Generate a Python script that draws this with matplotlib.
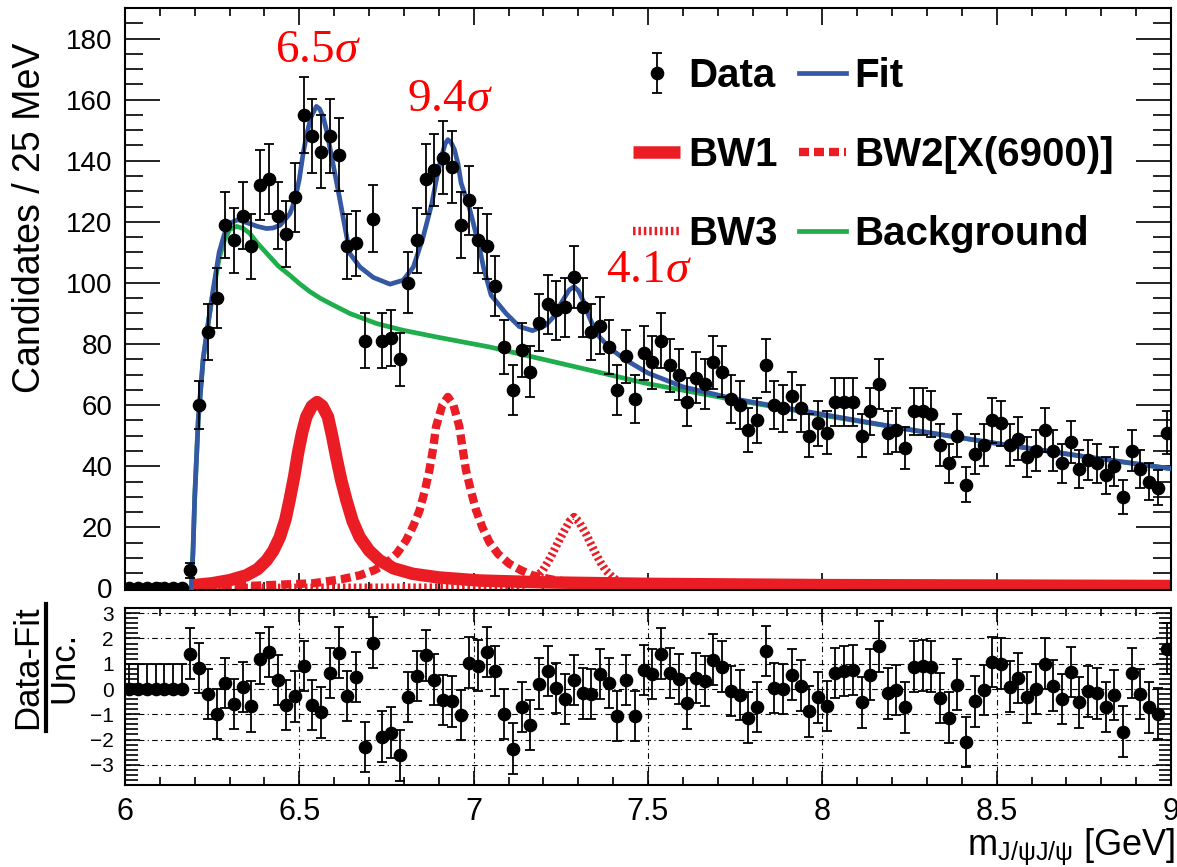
import numpy as np
import matplotlib
matplotlib.use('Agg')
import matplotlib.pyplot as plt
from matplotlib.lines import Line2D
from matplotlib.ticker import MultipleLocator, FormatStrFormatter

plt.rcParams['font.family'] = 'Liberation Sans'
plt.rcParams['mathtext.fontset'] = 'custom'
plt.rcParams['mathtext.rm'] = 'Liberation Sans'
plt.rcParams['mathtext.it'] = 'Liberation Serif:italic'
plt.rcParams['mathtext.bf'] = 'Liberation Sans:bold'

# ---- data (25 MeV bins, 6 - 9 GeV) ----
edges = np.linspace(6.0, 9.0, 121)
counts = [0, 0, 0, 0, 0, 0, 0, 6, 60, 84,
          95, 119, 114, 122, 112, 132, 134, 122, 116, 128,
          155, 148, 143, 148, 142, 112, 113, 81, 121, 81,
          82, 75, 100, 114, 134, 137, 141, 138, 119, 127,
          114, 112, 99, 79, 65, 78, 71, 87, 93, 91,
          92, 102, 92, 84, 86, 79, 65, 76, 62, 77,
          74, 81, 73, 70, 61, 69, 67, 74, 71, 62,
          60, 52, 55, 73, 60, 59, 63, 59, 50, 54,
          51, 61, 61, 61, 50, 58, 67, 51, 52, 46,
          58, 58, 57, 47, 41, 50, 34, 44, 47, 55,
          54, 47, 49, 43, 45, 52, 45, 41, 48, 39,
          42, 41, 37, 40, 30, 45, 39, 35, 33, 51]

pulls = [0, 0, 0, 0, 0, 0, 0, 1.4, 0.84, -0.19,
         -0.99, 0.24, -0.59, 0.08, -0.69, 1.2, 1.47, 0.35, -0.63, -0.29,
         0.91, -0.63, -0.93, 0.64, 1.44, -0.27, 0.48, -2.29, 1.84, -1.89,
         -1.73, -2.63, -0.32, 0.51, 1.33, 0.37, -0.43, -0.49, -1.03, 1.04,
         0.93, 1.47, 0.71, -0.99, -2.36, -0.72, -1.43, 0.21, 0.71, 0.04,
         -0.4, 0.35, -0.17, -0.2, 0.6, 0.23, -1.07, 0.36, -1.07, 0.76,
         0.6, 1.4, 0.63, 0.4, -0.57, 0.44, 0.31, 1.16, 0.89, -0.07,
         -0.24, -1.13, -0.71, 1.51, 0.04, 0.0, 0.57, 0.13, -0.89, -0.33,
         -0.67, 0.63, 0.71, 0.76, -0.53, 0.57, 1.69, -0.17, -0.04, -0.73,
         0.89, 0.93, 0.89, -0.36, -1.13, 0.17, -2.09, -0.49, -0.04, 1.07,
         1.0, 0.09, 0.44, -0.33, 0.0, 1.0, 0.13, -0.4, 0.67, -0.53,
         -0.09, -0.17, -0.71, -0.23, -1.69, 0.63, -0.2, -0.73, -0.97, 1.6]
pull_err_lo = [0] * 7 + [1] * 113
pull_err_hi = [1] * 120

# fit curves (read at selected masses)
fit_x = [6.19, 6.195, 6.2, 6.21, 6.224, 6.24, 6.253, 6.27, 6.285, 6.301, 6.324, 6.358,
         6.38, 6.406, 6.425, 6.445, 6.473, 6.487, 6.5, 6.511, 6.523, 6.534, 6.549, 6.558,
         6.568, 6.578, 6.587, 6.6, 6.611, 6.628, 6.645, 6.674, 6.712, 6.76, 6.798, 6.827,
         6.855, 6.88, 6.895, 6.907, 6.918, 6.926, 6.935, 6.945, 6.955, 6.964, 6.989,
         7.016, 7.028, 7.05, 7.093, 7.131, 7.169, 7.207, 7.23, 7.245, 7.262, 7.274, 7.288,
         7.3, 7.315, 7.331, 7.345, 7.36, 7.38, 7.398, 7.436, 7.5, 7.6, 7.75, 8.0, 8.25,
         8.5, 8.75, 9.0]
fit_y = [0, 12, 30, 55, 75, 88, 98, 110, 116, 119.6, 120.7, 119.4,
         118.5, 117.8, 118, 118.9, 122.7, 127, 134, 142.5, 149.5, 154.5, 157.8, 157,
         154.5, 150, 144.7, 137, 130.5, 120, 109.6, 105.2, 101.8, 99.6, 100.9, 105.2,
         115, 126, 135, 141, 145.5, 146.9, 146, 143.6, 139, 132.7, 124,
         111.9, 105.2, 96, 90, 85.7, 84.4, 86.2, 89, 92.2, 95.5, 97.7, 98.8,
         97.5, 94, 89, 85.3, 82.4, 80, 78, 74.8, 70.5, 66, 62, 57, 52,
         47.5, 43.2, 39.2]

bkg_x = [6.19, 6.195, 6.2, 6.21, 6.224, 6.24, 6.253, 6.27, 6.285, 6.3, 6.32, 6.34,
         6.358, 6.38, 6.416, 6.44, 6.473, 6.5, 6.531, 6.56, 6.588, 6.645, 6.722, 6.798,
         6.894, 7.047, 7.207, 7.35, 7.5, 7.75, 8.0, 8.25, 8.5, 8.75, 9.0]
bkg_y = [0, 12, 30, 55, 75, 88, 97, 108, 114, 117.5, 118.5, 117.8,
         116.2, 113, 108.5, 105.5, 102.5, 99.8, 97.1, 95, 93.3, 90, 86.7, 84.5,
         82.3, 79, 74.8, 71, 67, 61.7, 56.7, 52, 47.4, 43.2, 39.2]

bw1_x = [6.19, 6.25, 6.3, 6.348, 6.38, 6.406, 6.425, 6.444, 6.46, 6.472, 6.485, 6.496,
         6.508, 6.52, 6.536, 6.551, 6.566, 6.582, 6.594, 6.606, 6.62, 6.635, 6.653, 6.673,
         6.7, 6.73, 6.77, 6.825, 6.9, 7.016, 7.2, 7.5, 8.0, 9.0]
bw1_y = [1.0, 1.7, 2.7, 4.3, 6.3, 9.2, 12.3, 16.8, 22.5, 28.9, 36.5, 44.2,
         51, 56.2, 59.7, 61, 59.7, 56.2, 50, 43, 35.5, 28.9, 22, 16.8,
         12.4, 9.2, 6.6, 4.8, 3.6, 2.6, 2.0, 1.5, 1.1, 0.8]

bw2_x = [6.19, 6.35, 6.539, 6.62, 6.673, 6.715, 6.749, 6.78, 6.806, 6.827, 6.845, 6.86,
         6.873, 6.884, 6.892, 6.91, 6.926, 6.942, 6.959, 6.968, 6.978, 6.992, 7.007,
         7.025, 7.045, 7.07, 7.102, 7.135, 7.169, 7.23, 7.303, 7.5, 8.0, 9.0]
bw2_y = [0.3, 0.8, 1.7, 3.0, 4.3, 6.0, 8.1, 11.5, 15.7, 20.5, 25.6, 32,
         38.7, 46, 52.9, 60, 62.7, 60, 52.9, 46, 38.7, 32, 25.6,
         20, 15.2, 11.3, 8.1, 6.0, 4.3, 2.8, 1.7, 1.0, 0.6, 0.4]

bw3_x = [6.19, 7.0, 7.111, 7.14, 7.16, 7.18, 7.198, 7.212, 7.226, 7.24, 7.255, 7.275,
         7.288, 7.301, 7.322, 7.336, 7.35, 7.364, 7.379, 7.397, 7.417, 7.44, 7.494,
         8.0, 9.0]
bw3_y = [0.2, 0.3, 0.5, 1.2, 2.1, 3.8, 5.9, 8.5, 11.4, 14.6, 17.9, 22,
         23.4, 22, 17.9, 14.6, 11.4, 8.5, 5.9, 3.8, 2.1, 1.2, 0.5,
         0.3, 0.2]

centers = (edges[:-1] + edges[1:]) / 2
counts = np.array(counts, dtype=float)

red = '#EA1D25'
blue = '#3558A5'
green = '#1FAE4B'

fig = plt.figure(figsize=(11.77, 8.67), dpi=100)
ax = fig.add_axes([0.1062, 0.3195, 0.8887, 0.6713])
ax2 = fig.add_axes([0.1062, 0.0946, 0.8887, 0.2045])

# ---- main panel ----
h_bw1, = ax.plot(bw1_x, bw1_y, color=red, lw=9, solid_capstyle='butt', zorder=2)
h_bw2, = ax.plot(bw2_x, bw2_y, color=red, lw=6, dashes=(1.2, 0.6), dash_capstyle='butt', zorder=2)
h_bw3, = ax.plot(bw3_x, bw3_y, color=red, lw=6, dashes=(0.3, 0.35), dash_capstyle='butt', zorder=2)
h_bkg, = ax.plot(bkg_x, bkg_y, color=green, lw=3.4, zorder=3)
h_fit, = ax.plot(fit_x, fit_y, color=blue, lw=3.4, zorder=3)
h_data = ax.errorbar(centers, counts, yerr=np.sqrt(counts), fmt='o', color='k', ms=8.8,
                     elinewidth=1.3, capsize=3.5, capthick=1.3, zorder=5)

ax.set_xlim(6, 9)
ax.set_ylim(-0.5, 190)
ax.xaxis.set_major_locator(MultipleLocator(0.5))
ax.xaxis.set_minor_locator(MultipleLocator(0.1))
ax.yaxis.set_major_locator(MultipleLocator(20))
ax.yaxis.set_minor_locator(MultipleLocator(5))
ax.tick_params(which='both', direction='in', top=True, right=True, width=1.2)
ax.tick_params(axis='x', which='major', length=12, labelbottom=False)
ax.tick_params(axis='x', which='minor', length=6)
ax.tick_params(axis='y', which='major', length=25, labelsize=20, pad=9)
ax.tick_params(axis='y', which='minor', length=13)
for s in ax.spines.values():
    s.set_linewidth(1.5)

fig.text(30 / 1177, 1 - 218 / 867, 'Candidates / 25 MeV', rotation=90,
         ha='center', va='center', fontsize=27)

ax.legend([h_data, h_bw1, h_bw3, h_fit, h_bw2, h_bkg],
          ['Data', 'BW1', 'BW3', 'Fit', 'BW2[X(6900)]', 'Background'],
          ncol=2, loc='upper left', bbox_to_anchor=(633 / 1177, 1 - 57 / 867),
          bbox_transform=fig.transFigure, frameon=False, borderpad=0,
          borderaxespad=0, handlelength=1.17, handletextpad=0.2,
          columnspacing=0.52, labelspacing=1.02,
          prop={'weight': 'bold', 'size': 29})

sig_kw = dict(color='red', fontsize=34, fontfamily='Liberation Serif', ha='center', va='center')
ax.text(6.553, 176, '6.5$\\sigma$', **sig_kw)
ax.text(6.931, 160, '9.4$\\sigma$', **sig_kw)
ax.text(7.503, 104, '4.1$\\sigma$', **sig_kw)

# ---- pull panel ----
ax2.errorbar(centers, pulls, yerr=[pull_err_lo, pull_err_hi], fmt='o', color='k', ms=8.8,
             elinewidth=1.3, capsize=3.5, capthick=1.3, zorder=5)
ax2.set_xlim(6, 9)
ax2.set_ylim(-3.8, 3.22)
ax2.xaxis.set_major_locator(MultipleLocator(0.5))
ax2.xaxis.set_minor_locator(MultipleLocator(0.1))
ax2.xaxis.set_major_formatter(FormatStrFormatter('%g'))
ax2.set_yticks(range(-3, 4))
ax2.yaxis.set_minor_locator(MultipleLocator(0.2))
ax2.grid(True, which='major', color='k', lw=0.8, linestyle=(0, (5, 3, 1, 3)))
ax2.tick_params(which='both', direction='in', top=True, right=True, width=1.2)
ax2.tick_params(axis='x', which='major', length=10, labelsize=22, pad=9)
ax2.tick_params(axis='x', which='minor', length=6)
ax2.tick_params(axis='y', which='major', length=11, labelsize=15, pad=8)
ax2.tick_params(axis='y', which='minor', length=9)
for s in ax2.spines.values():
    s.set_linewidth(1.5)

# Data-Fit / Unc. label drawn as a rotated fraction
fig.text(28 / 1177, 1 - 667 / 867, 'Data-Fit', rotation=90, ha='center', va='center', fontsize=25)
fig.text(64 / 1177, 1 - 667 / 867, 'Unc.', rotation=90, ha='center', va='center', fontsize=25)
fig.add_artist(Line2D([45.5 / 1177, 45.5 / 1177], [1 - 604 / 867, 1 - 731 / 867],
                      transform=fig.transFigure, color='k', lw=3))

fig.text(1175 / 1177, 1 - 855 / 867, r'm$_{\mathrm{J/\psi J/\psi}}$ [GeV]',
         ha='right', va='baseline', fontsize=26)

plt.savefig('out.png', dpi=100)
